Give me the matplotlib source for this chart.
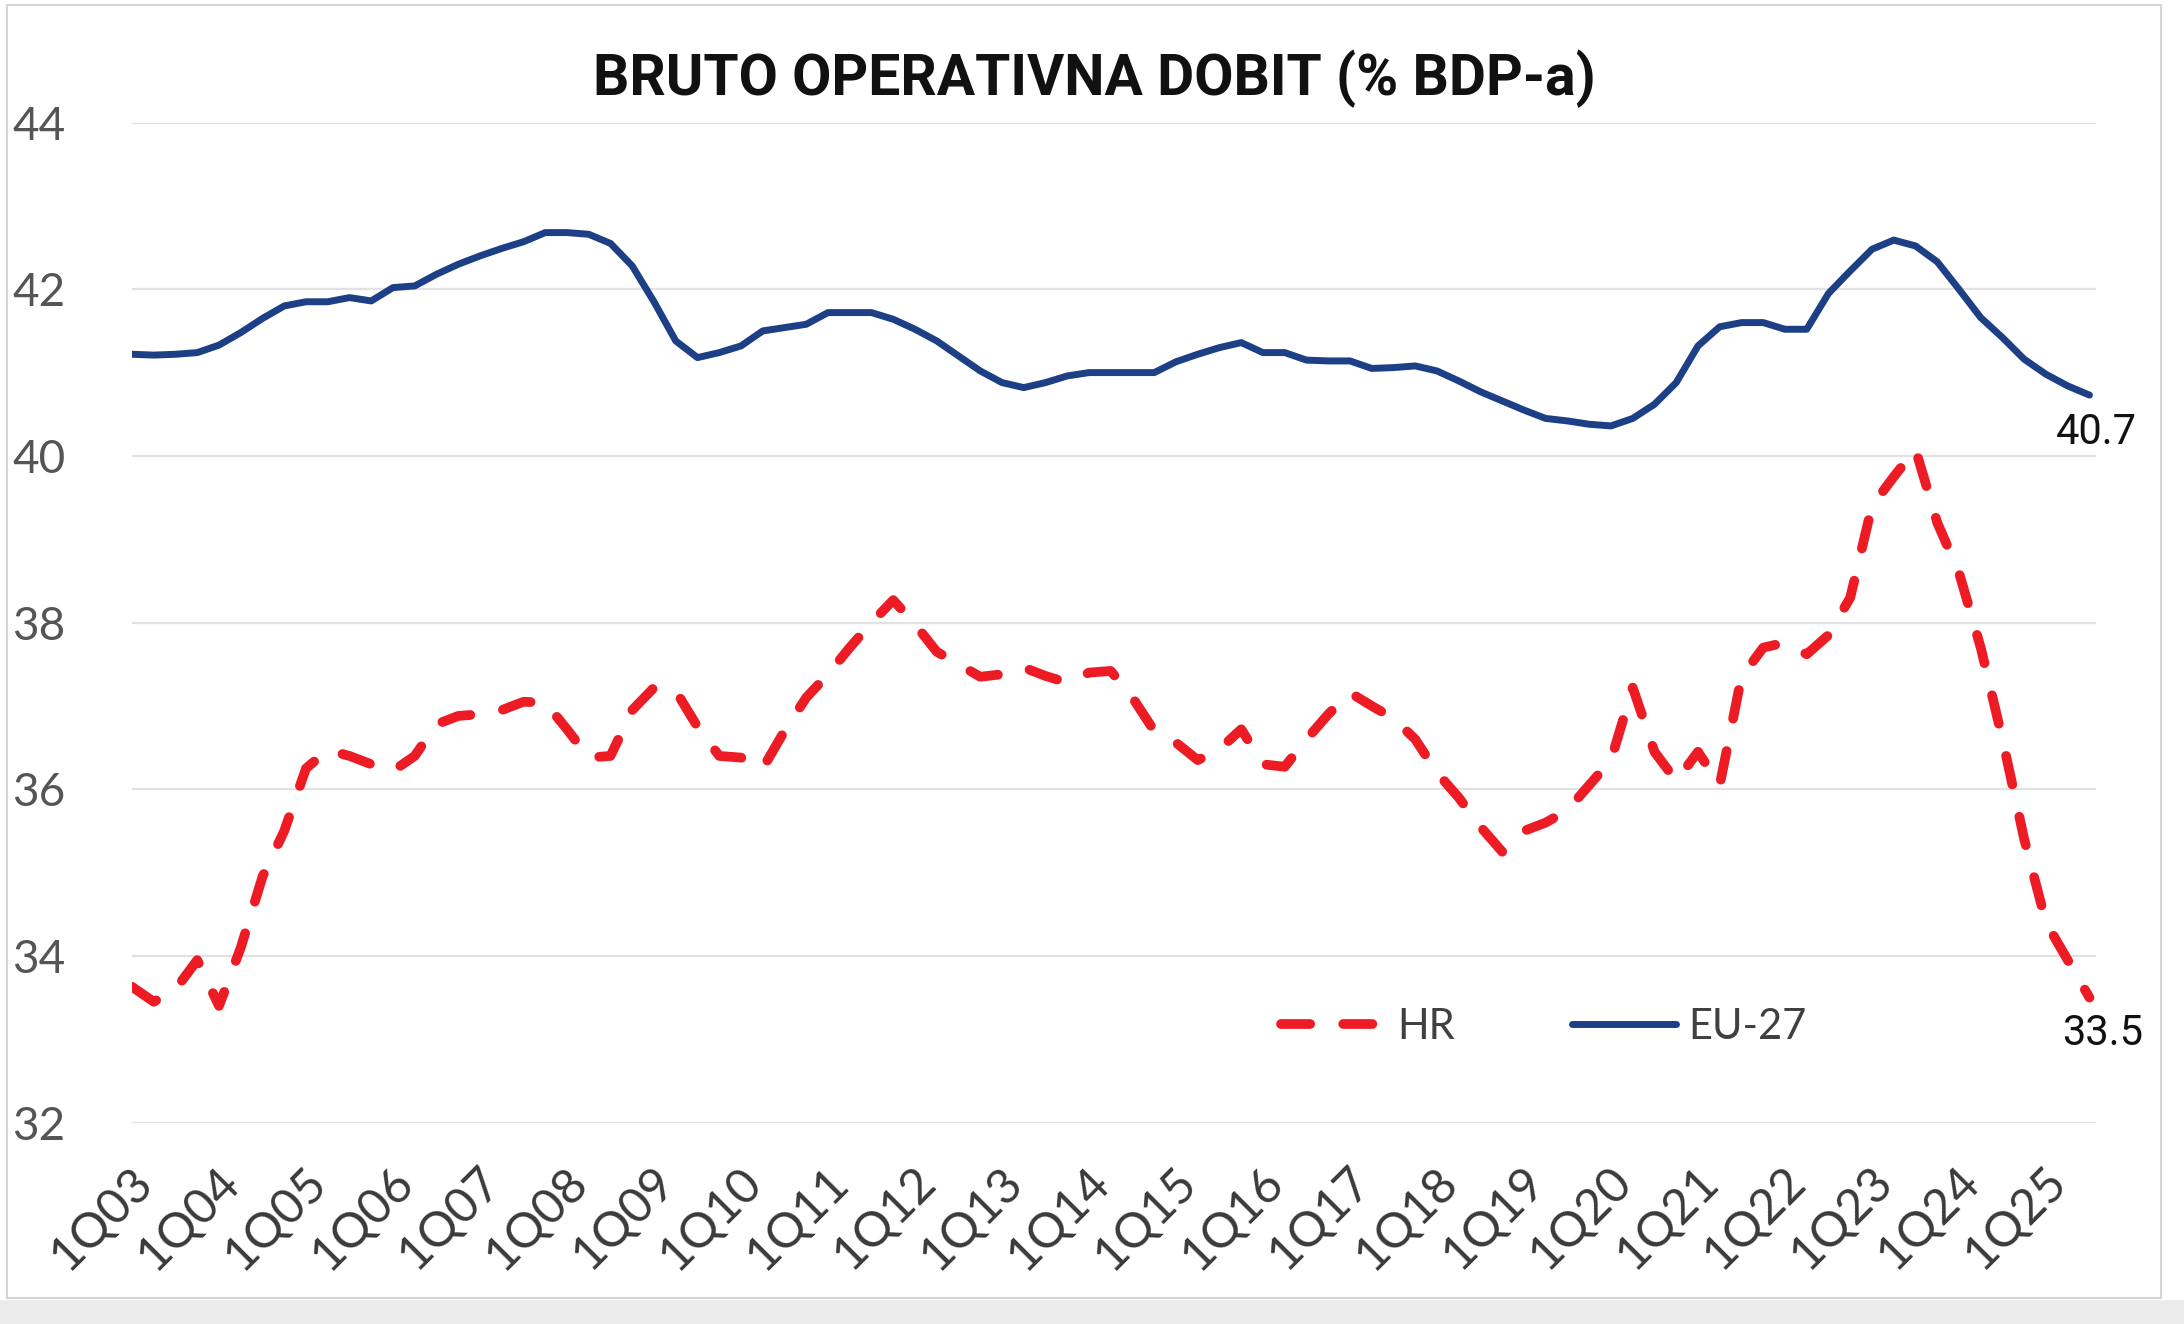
import matplotlib
matplotlib.use("Agg")
import matplotlib.pyplot as plt
import matplotlib.transforms as mtransforms
from matplotlib.patches import Rectangle

# quarterly data 1Q03 .. 3Q25
quarters = [f"{q}Q{y:02d}" for y in range(3, 26) for q in range(1, 5)][:91]

eu27 = [41.22, 41.21, 41.22, 41.24, 41.33, 41.48, 41.65, 41.80, 41.85, 41.85,
        41.90, 41.86, 42.02, 42.04, 42.18, 42.30, 42.40, 42.49, 42.57, 42.68,
        42.68, 42.66, 42.55, 42.28, 41.85, 41.38, 41.18, 41.24, 41.32, 41.50,
        41.54, 41.58, 41.72, 41.72, 41.72, 41.64, 41.52, 41.38, 41.20, 41.02,
        40.88, 40.82, 40.88, 40.96, 41.00, 41.00, 41.00, 41.00, 41.13, 41.22,
        41.30, 41.36, 41.24, 41.24, 41.15, 41.14, 41.14, 41.05, 41.06, 41.08,
        41.02, 40.90, 40.77, 40.66, 40.55, 40.45, 40.42, 40.38, 40.36, 40.45,
        40.62, 40.88, 41.32, 41.55, 41.60, 41.60, 41.52, 41.52, 41.95, 42.22,
        42.48, 42.59, 42.52, 42.33, 42.00, 41.66, 41.42, 41.16, 40.98, 40.84,
        40.73]

hr = [33.63, 33.45, 33.60, 33.95, 33.40, 34.10, 34.95, 35.50, 36.25, 36.47,
      36.40, 36.30, 36.22, 36.40, 36.78, 36.88, 36.90, 36.95, 37.05, 37.04,
      36.72, 36.38, 36.40, 36.95, 37.22, 37.18, 36.75, 36.40, 36.38, 36.25,
      36.70, 37.10, 37.38, 37.70, 38.00, 38.27, 37.98, 37.65, 37.50, 37.35,
      37.38, 37.46, 37.36, 37.28, 37.40, 37.42, 37.10, 36.70, 36.56, 36.35,
      36.48, 36.72, 36.30, 36.27, 36.60, 36.90, 37.16, 37.00, 36.85, 36.60,
      36.20, 35.90, 35.55, 35.25, 35.50, 35.60, 35.75, 36.05, 36.35, 37.22,
      36.45, 36.10, 36.45, 36.05, 37.35, 37.70, 37.76, 37.62, 37.85, 38.30,
      39.40, 39.75, 40.08, 39.20, 38.60, 37.70, 36.60, 35.40, 34.40, 33.95,
      33.50]

title = "BRUTO OPERATIVNA DOBIT (% BDP-a)"
yticks = [32, 34, 36, 38, 40, 42, 44]

label_font = ["Lato", "DejaVu Sans"]
head_font = ["Roboto", "DejaVu Sans"]

W, H = 2184, 1324
fig = plt.figure(figsize=(W / 100, H / 100), dpi=100)
ax = fig.add_axes([132 / W, 1 - 1122.6 / H, (2096 - 132) / W, 1000 / H])

x = list(range(len(quarters)))
ax.plot(x, eu27, color="#1d3f86", lw=5, solid_capstyle="round",
        solid_joinstyle="round", label="EU-27", zorder=3)
ax.plot(x, hr, color="#ed1c24", lw=7, dashes=(3.0, 3.4),
        dash_capstyle="round", label="HR", zorder=3)

ax.set_xlim(0, 90.3)
ax.set_ylim(32, 44)
ax.set_yticks(yticks)
ax.set_yticklabels([str(v) for v in yticks], fontsize=33, color="#555555",
                   family=label_font, ha="left")
ax.tick_params(axis="y", length=0, pad=86)
ax.set_xticks(x[::4])
ax.set_xticklabels(quarters[::4], rotation=45, ha="right", va="top",
                   rotation_mode="anchor", fontsize=35, color="#3a3a3a",
                   family=label_font)
ax.tick_params(axis="x", length=0, pad=26)
off = mtransforms.ScaledTranslation(-0.02, 0, fig.dpi_scale_trans)
for lab in ax.get_xticklabels():
    lab.set_transform(lab.get_transform() + off)

ax.grid(axis="y", color="#e2e2e2", lw=1.6)
ax.set_axisbelow(True)
for s in ax.spines.values():
    s.set_visible(False)

# end labels
ax.annotate(f"{eu27[-1]:.1f}", (x[-1], eu27[-1]), xytext=(-24, -27),
            textcoords="offset points", ha="left", va="center",
            fontsize=30, color="#111111", family=head_font)
ax.annotate(f"{hr[-1]:.1f}", (x[-1], hr[-1]), xytext=(-20, -26),
            textcoords="offset points", ha="left", va="center",
            fontsize=30, color="#111111", family=head_font)

h, l = ax.get_legend_handles_labels()
leg = ax.legend(h[::-1], l[::-1], ncol=2, frameon=False,
                loc="center", bbox_to_anchor=(1544 / W, 1 - 1027 / H),
                bbox_transform=fig.transFigure, handlelength=2.5,
                columnspacing=2.8, handletextpad=0.3,
                prop={"family": label_font, "size": 30})
for t in leg.get_texts():
    t.set_color("#404040")

fig.text(0.501, 1 - 79 / H, title, ha="center", va="center", fontsize=41,
         fontweight="bold", color="#111111", family=head_font)

# frame of the clipping
fig.add_artist(Rectangle((7 / W, 1 - 1298 / H), (2161 - 7) / W, (1298 - 5) / H,
                         transform=fig.transFigure, fill=False,
                         ec="#d6d6d6", lw=1.5))
fig.add_artist(Rectangle((0, 0), 1, 24 / H, transform=fig.transFigure,
                         fc="#ececec", ec="none"))

fig.savefig("out.png", dpi=100)
